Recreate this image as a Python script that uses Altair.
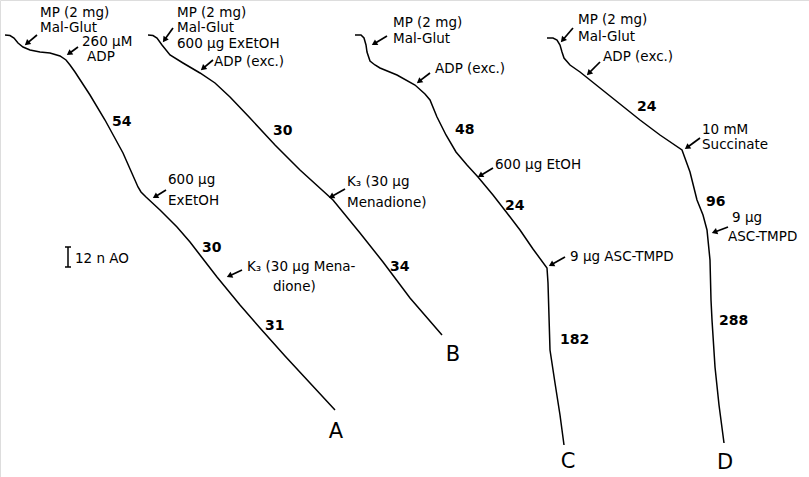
import math
import altair as alt
import pandas as pd

# Oxygen-electrode traces (time runs right, O2 uptake runs down), one list per run
trace_a_t = [5, 10, 14, 18, 23, 30, 40, 50, 60, 66, 70, 75, 90, 105, 123, 138, 141, 146, 160, 177, 190, 200, 217, 240, 260, 285, 310, 335]
trace_a_o = [35, 35.5, 38, 43, 47, 50, 52, 53, 56, 60, 65, 72, 95, 120, 153, 187, 192, 197, 210, 227, 242, 255, 277, 305, 328, 356, 383, 410]

trace_b_t = [148, 153, 157, 162, 170, 183, 200, 215, 230, 250, 275, 300, 333, 360, 383, 410, 442]
trace_b_o = [35, 35.5, 38, 45, 55, 63, 73, 83, 97, 118, 145, 170, 200, 233, 262, 298, 335]

trace_c_t = [355, 361, 364, 366, 367, 370, 375, 380, 397, 415, 425, 430, 437, 446, 456, 467, 478, 493, 507, 520, 533, 547, 548, 550, 555, 560, 564]
trace_c_o = [35, 35, 38, 45, 52, 61, 65, 68, 75, 85, 94, 100, 117, 135, 152, 165, 177, 195, 213, 230, 249, 268, 283, 350, 383, 415, 445]

trace_d_t = [547, 553, 557, 560, 562, 564, 570, 580, 590, 600, 620, 640, 660, 682, 690, 697, 703, 707, 710, 711, 712, 715, 719, 724]
trace_d_o = [38, 38, 40, 45, 52, 58, 65, 72, 80, 88, 104, 120, 135, 150, 172, 200, 215, 230, 260, 300, 320, 367, 405, 443]

# Additions: label text and where it sits
note_text = [
    "MP (2 mg)", "Mal-Glut", "260 \u00b5M", "ADP", "600 \u00b5g", "ExEtOH", "K\u2083 (30 \u00b5g  Mena-", "dione)",
    "MP (2 mg)", "Mal-Glut", "600 \u00b5g  ExEtOH", "ADP (exc.)", "K\u2083 (30 \u00b5g", "Menadione)",
    "MP (2 mg)", "Mal-Glut", "ADP (exc.)", "600 \u00b5g  EtOH", "9 \u00b5g  ASC-TMPD",
    "MP (2 mg)", "Mal-Glut", "ADP (exc.)", "10 mM", "Succinate", "9 \u00b5g", "ASC-TMPD",
    "12 n AO",
]
note_t = [40, 40, 82, 87, 168, 168, 247, 273,
          177, 177, 177, 214, 347, 347,
          393, 393, 435, 495, 570,
          578, 578, 603, 702, 702, 732, 728,
          75]
note_o = [13, 28, 42, 57, 180, 201, 267, 287,
          13, 28, 44, 62, 182, 203,
          23, 39, 69, 165, 257,
          20, 37, 57, 130, 145, 218, 237,
          259]

# Respiration rates written beside the traces
rate_text = ["54", "30", "31", "30", "34", "48", "24", "182", "24", "96", "288"]
rate_t = [112, 202, 265, 273, 390, 455, 505, 560, 637, 706, 719]
rate_o = [122, 248, 326, 131, 267, 130, 206, 340, 107, 202, 321]

# Trace letters
run_text = ["A", "B", "C", "D"]
run_t = [336, 453, 568, 725]
run_o = [432, 355, 462, 463]

# Arrows pointing at the moment of each addition (tail -> head)
arrow_t0 = [37, 78, 166, 242, 173, 213, 345, 387, 430, 493, 565, 573, 600, 700, 728]
arrow_o0 = [35, 47, 190, 270, 28, 60, 189, 36, 73, 168, 257, 28, 62, 138, 227]
arrow_t1 = [25, 67, 153, 227, 163, 201, 329, 372, 417, 478, 549, 561, 587, 685, 712]
arrow_o1 = [45, 55, 198, 277, 42, 70, 198, 45, 83, 177, 266, 42, 75, 149, 233]

# Calibration bar (12 nmol atomic oxygen)
bar_t = 68
bar_o0, bar_o1 = 247, 267

FONT = "DejaVu Sans"

traces = pd.concat([
    pd.DataFrame({"run": name, "t": t, "o2": o, "order": range(len(t))})
    for name, t, o in [("A", trace_a_t, trace_a_o), ("B", trace_b_t, trace_b_o),
                       ("C", trace_c_t, trace_c_o), ("D", trace_d_t, trace_d_o)]
])

xs = alt.Scale(domain=[0, 809], nice=False, zero=False)
ys = alt.Scale(domain=[0, 477], nice=False, zero=False, reverse=True)
X = lambda f: alt.X(f, type="quantitative", scale=xs, axis=None)
Y = lambda f: alt.Y(f, type="quantitative", scale=ys, axis=None)

lines = alt.Chart(traces).mark_line(color="black", strokeWidth=1.5, strokeJoin="miter").encode(
    x=X("t"), y=Y("o2"), detail="run:N", order="order:Q"
)

notes = alt.Chart(pd.DataFrame({"txt": note_text, "t": note_t, "o2": note_o})).mark_text(
    align="left", baseline="middle", font=FONT, fontSize=13.5, color="black"
).encode(x=X("t"), y=Y("o2"), text="txt:N")

rates = alt.Chart(pd.DataFrame({"txt": rate_text, "t": rate_t, "o2": rate_o})).mark_text(
    align="left", baseline="middle", font=FONT, fontSize=14, fontWeight="bold", color="black"
).encode(x=X("t"), y=Y("o2"), text="txt:N")

runs = alt.Chart(pd.DataFrame({"txt": run_text, "t": run_t, "o2": run_o})).mark_text(
    align="center", baseline="middle", font=FONT, fontSize=21, color="black"
).encode(x=X("t"), y=Y("o2"), text="txt:N")

# Arrow shafts and heads
rows = []
for t0, o0, t1, o1 in zip(arrow_t0, arrow_o0, arrow_t1, arrow_o1):
    dt, do = t1 - t0, o1 - o0
    n = math.hypot(dt, do)
    ut, uo = dt / n, do / n
    ang = math.degrees(math.atan2(dt, -do)) % 360
    rows.append({"t0": t0, "o0": o0, "ts": t1 - 3 * ut, "os": o1 - 3 * uo,
                 "th": t1 - 2.6 * ut, "oh": o1 - 2.6 * uo, "ang": ang})
arrows = pd.DataFrame(rows)

shafts = alt.Chart(arrows).mark_rule(color="black", strokeWidth=1.7).encode(
    x=X("t0"), y=Y("o0"), x2="ts:Q", y2="os:Q"
)
heads = alt.Chart(arrows).mark_point(shape="triangle-up", filled=True, color="black", size=42, opacity=1).encode(
    x=X("th"), y=Y("oh"), angle=alt.Angle("ang:Q", scale=None)
)

bar_df = pd.DataFrame({"t": [bar_t, bar_t - 3, bar_t - 3], "o2": [bar_o0, bar_o0, bar_o1],
                       "t2": [bar_t, bar_t + 3, bar_t + 3], "o22": [bar_o1, bar_o0, bar_o1]})
bar = alt.Chart(bar_df).mark_rule(color="black", strokeWidth=1.5).encode(
    x=X("t"), y=Y("o2"), x2="t2:Q", y2="o22:Q"
)

chart = alt.layer(lines, shafts, heads, bar, notes, rates, runs).properties(
    width=809, height=477, padding=0, autosize=alt.AutoSizeParams(type="none")
).configure_view(stroke=None).configure(background="white")

chart.save("out.html", embed_options={"renderer": "svg", "actions": False})
